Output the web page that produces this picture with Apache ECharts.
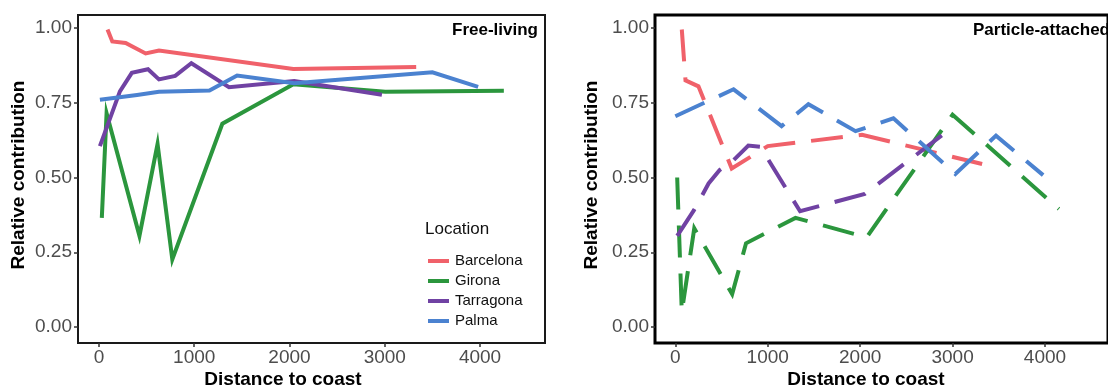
<!DOCTYPE html>
<html>
<head>
<meta charset="utf-8">
<script src="https://cdn.jsdelivr.net/npm/echarts@6/dist/echarts.min.js"></script>
<style>
html,body{margin:0;padding:0;background:#fff;}
#c{width:1108px;height:389px;}
</style>
</head>
<body>
<div id="c"></div>
<script>
// ---- Data ----
const locations = ["Barcelona", "Girona", "Tarragona", "Palma"];
const panelTitles = ["Free-living", "Particle-attached"];
const xTicks = [0, 1000, 2000, 3000, 4000];
const yTicks = [0, 0.25, 0.5, 0.75, 1.0];

// Free-living (solid)
const flBarcelonaX = [90, 140, 280, 490, 630, 2040, 3330];
const flBarcelonaY = [0.995, 0.955, 0.95, 0.915, 0.925, 0.863, 0.87];
const flGironaX = [30, 80, 425, 615, 770, 1295, 2040, 3005, 4250];
const flGironaY = [0.365, 0.715, 0.305, 0.612, 0.226, 0.68, 0.812, 0.787, 0.79];
const flTarragonaX = [10, 220, 345, 515, 630, 800, 970, 1365, 2050, 2970];
const flTarragonaY = [0.605, 0.788, 0.85, 0.862, 0.828, 0.84, 0.882, 0.802, 0.823, 0.777];
const flPalmaX = [10, 400, 630, 1160, 1450, 2050, 3500, 3980];
const flPalmaY = [0.76, 0.776, 0.787, 0.791, 0.841, 0.815, 0.852, 0.803];

// Particle-attached (dashed)
const paBarcelonaX = [70, 110, 250, 610, 1000, 2020, 3320];
const paBarcelonaY = [0.995, 0.825, 0.805, 0.53, 0.605, 0.643, 0.545];
const paGironaX = [20, 70, 205, 615, 765, 1300, 2070, 3000, 4150];
const paGironaY = [0.5, 0.05, 0.33, 0.11, 0.28, 0.365, 0.3, 0.71, 0.395];
const paTarragonaX = [20, 200, 290, 360, 480, 620, 790, 920, 1350, 2050, 2930];
const paTarragonaY = [0.305, 0.39, 0.44, 0.48, 0.525, 0.555, 0.607, 0.603, 0.387, 0.445, 0.652];
const paPalmaX = [0, 630, 1150, 1440, 1950, 2360, 3030, 3470, 3980];
const paPalmaY = [0.705, 0.795, 0.672, 0.745, 0.655, 0.698, 0.512, 0.64, 0.508];

// ---- Styles ----
const colors = {Barcelona: "#F0616A", Girona: "#2B963D", Tarragona: "#7042A3", Palma: "#4B82D0"};
const zip = (xs, ys) => xs.map((x, i) => [x, ys[i]]);

const panels = [
  {Barcelona: zip(flBarcelonaX, flBarcelonaY), Girona: zip(flGironaX, flGironaY),
   Tarragona: zip(flTarragonaX, flTarragonaY), Palma: zip(flPalmaX, flPalmaY)},
  {Barcelona: zip(paBarcelonaX, paBarcelonaY), Girona: zip(paGironaX, paGironaY),
   Tarragona: zip(paTarragonaX, paTarragonaY), Palma: zip(paPalmaX, paPalmaY)}
];

const tickFont = {fontFamily: "'Liberation Sans', Arial, sans-serif", fontSize: 19, color: "#4D4D4D"};
const titleFont = "bold 19px 'Liberation Sans Narrow', 'Arial Narrow', 'Liberation Sans', sans-serif";

const grids = [
  {left: 78, top: 15, width: 467, height: 328, show: true, borderColor: "#1a1a1a", borderWidth: 2, backgroundColor: "transparent"},
  {left: 655, top: 15, width: 467, height: 328, show: true, borderColor: "#000", borderWidth: 3, backgroundColor: "transparent"}
];

const xAxes = [0, 1].map(i => ({
  type: "value", gridIndex: i, min: -220, max: 4682, position: "bottom",
  axisLine: {show: false, onZero: false}, splitLine: {show: false},
  axisTick: {show: true, inside: false, length: 4, customValues: xTicks, lineStyle: {color: "#333", width: 1.5}},
  axisLabel: Object.assign({customValues: xTicks, margin: 5, formatter: v => String(v)}, tickFont)
}));
const yAxes = [0, 1].map(i => ({
  type: "value", gridIndex: i, min: -0.0535, max: 1.0435, position: "left",
  axisLine: {show: false, onZero: false}, splitLine: {show: false},
  axisTick: {show: true, inside: false, length: 4, customValues: yTicks, lineStyle: {color: "#333", width: 1.5}},
  axisLabel: Object.assign({customValues: yTicks, margin: 6, formatter: v => v.toFixed(2)}, tickFont)
}));

const series = [];
[0, 1].forEach(p => {
  locations.forEach(loc => {
    series.push({
      name: loc, type: "line", xAxisIndex: p, yAxisIndex: p,
      data: panels[p][loc], showSymbol: false, symbol: "none",
      lineStyle: {color: colors[loc], width: 4, type: p === 0 ? "solid" : [32, 16], cap: "butt", join: "miter"},
      itemStyle: {color: colors[loc]},
      z: 3, silent: true
    });
  });
});

const option = {
  animation: false,
  grid: grids,
  xAxis: xAxes,
  yAxis: yAxes,
  series: series,
  legend: {
    data: locations, orient: "vertical", left: 428, top: 253,
    icon: "rect", itemWidth: 21, itemHeight: 4, itemGap: 4,
    textStyle: {fontFamily: "'Liberation Sans', Arial, sans-serif", fontSize: 15, color: "#111", lineHeight: 16, padding: [0, 0, 0, 1]},
    selectedMode: false, padding: 0
  },
  graphic: [
    {type: "text", left: 425, top: 221, style: {text: "Location", font: "17px 'Liberation Sans', Arial, sans-serif", fill: "#111"}},
    {type: "text", x: 452, y: 22, style: {text: panelTitles[0], font: "bold 17px 'Liberation Sans', Arial, sans-serif", fill: "#000"}},
    {type: "text", x: 973, y: 22, style: {text: panelTitles[1], font: "bold 17px 'Liberation Sans', Arial, sans-serif", fill: "#000"}},
    {type: "text", x: 283, y: 380, style: {text: "Distance to coast", font: titleFont, fill: "#000", align: "center", verticalAlign: "middle"}},
    {type: "text", x: 866, y: 380, style: {text: "Distance to coast", font: titleFont, fill: "#000", align: "center", verticalAlign: "middle"}},
    {type: "text", x: 19, y: 175, rotation: Math.PI / 2, style: {text: "Relative contribution", font: titleFont, fill: "#000", align: "center", verticalAlign: "middle"}},
    {type: "text", x: 592, y: 175, rotation: Math.PI / 2, style: {text: "Relative contribution", font: titleFont, fill: "#000", align: "center", verticalAlign: "middle"}}
  ]
};

const chart = echarts.init(document.getElementById("c"), null, {renderer: "canvas"});
chart.setOption(option);
</script>
</body>
</html>
